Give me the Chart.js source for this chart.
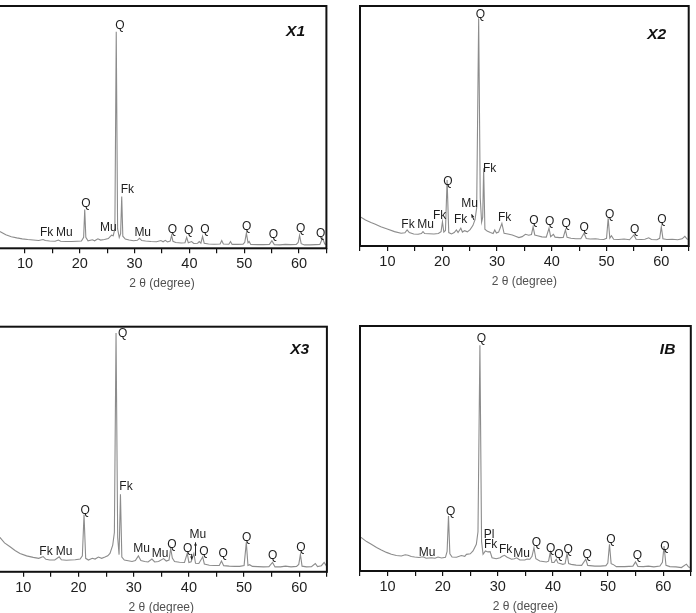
<!DOCTYPE html>
<html>
<head>
<meta charset="utf-8">
<script src="https://cdn.jsdelivr.net/npm/chart.js@4.4.1/dist/chart.umd.min.js"></script>
<style>
  body { margin: 0; background: #fff; }
  #page { position: relative; width: 696px; height: 613px; overflow: hidden; background: #fff; }
  canvas { position: absolute; }
</style>
</head>
<body>
<div id="page"></div>
<script>
// 2θ (degree) and relative intensity (% of frame height)

const x1Theta = [5.0, 5.5, 6.5, 7.5, 8.5, 9.5, 10.5, 11.5, 12.5, 13.3, 13.7, 14.5, 15.5, 16.1, 16.5, 17.5, 18.5, 19.5, 20.3, 20.7, 20.9, 21.1, 21.5, 22.3, 22.7, 23.3, 23.8, 24.5, 25.2, 25.8, 26.1, 26.4, 26.65, 26.9, 27.2, 27.45, 27.65, 27.85, 28.3, 29.0, 29.8, 30.5, 30.9, 31.3, 32.0, 33.0, 34.0, 34.8, 35.2, 35.6, 36.0, 36.5, 36.75, 37.0, 37.5, 38.5, 39.2, 39.5, 39.8, 40.4, 40.8, 41.5, 41.8, 42.1, 42.4, 42.7, 43.5, 44.5, 45.6, 45.9, 46.2, 47.2, 47.5, 47.8, 48.8, 49.8, 50.1, 50.4, 50.7, 50.9, 51.2, 52.5, 53.5, 54.6, 55.05, 55.5, 56.5, 57.5, 58.5, 59.5, 59.85, 60.1, 60.4, 61.0, 62.0, 63.0, 63.8, 64.3, 64.7, 65.0];
const x1Int = [7.5, 6.8, 5.6, 4.8, 4.3, 3.9, 3.6, 3.4, 3.2, 3.6, 3.2, 3.0, 2.9, 3.4, 2.9, 2.8, 2.8, 2.9, 3.0, 4.5, 16.0, 4.5, 3.1, 3.5, 3.1, 3.9, 3.4, 3.6, 4.0, 5.4, 5.2, 8.0, 89.4, 8.0, 4.5, 6.0, 21.4, 5.0, 3.8, 3.4, 3.1, 3.3, 4.1, 3.2, 3.0, 2.8, 2.7, 3.2, 2.7, 3.3, 2.6, 3.0, 5.3, 2.9, 2.4, 2.2, 2.3, 4.5, 2.3, 2.8, 2.0, 2.1, 2.8, 2.1, 4.9, 2.1, 1.8, 1.7, 1.8, 3.2, 1.8, 1.7, 2.8, 1.6, 1.6, 1.7, 2.5, 6.3, 2.3, 2.8, 1.6, 1.5, 1.5, 1.6, 3.1, 1.5, 1.4, 1.6, 1.5, 1.6, 2.4, 5.3, 1.9, 1.4, 1.4, 1.5, 1.6, 4.2, 1.8, 1.6];

const x2Theta = [5.0, 6.0, 7.0, 7.7, 8.8, 10.1, 11.3, 12.5, 13.2, 13.6, 14.0, 14.8, 15.6, 16.2, 16.5, 16.8, 17.6, 18.5, 19.3, 19.8, 20.05, 20.3, 20.6, 20.9, 21.2, 21.7, 22.2, 22.6, 22.9, 23.4, 23.7, 24.1, 24.6, 25.1, 25.6, 26.0, 26.3, 26.66, 26.95, 27.2, 27.4, 27.57, 27.8, 28.2, 28.8, 29.3, 29.6, 29.9, 30.3, 30.9, 31.3, 32.0, 32.8, 33.5, 34.0, 34.6, 35.2, 35.8, 36.3, 36.6, 36.9, 37.4, 38.2, 39.0, 39.5, 39.8, 40.3, 40.6, 41.4, 42.1, 42.5, 42.8, 43.5, 44.4, 45.3, 45.9, 46.3, 47.0, 48.0, 48.7, 49.5, 50.0, 50.3, 50.6, 50.9, 51.3, 52.2, 53.2, 54.2, 55.0, 55.4, 56.3, 57.0, 57.7, 58.2, 59.2, 59.7, 60.0, 60.3, 61.0, 62.0, 63.0, 63.8, 64.3, 64.7, 65.0];
const x2Int = [12.2, 10.8, 9.8, 9.2, 8.0, 7.0, 6.0, 5.3, 5.5, 6.7, 5.6, 5.0, 4.9, 5.2, 6.0, 5.2, 5.1, 5.0, 5.2, 6.0, 10.1, 5.8, 6.5, 27.5, 5.6, 5.0, 5.6, 6.7, 5.6, 7.4, 5.8, 6.4, 5.9, 6.8, 8.5, 11.0, 16.0, 94.9, 20.0, 10.0, 12.0, 32.4, 7.0, 6.2, 5.6, 5.2, 6.7, 5.4, 5.8, 9.4, 5.3, 5.0, 4.6, 4.0, 3.5, 3.9, 4.9, 4.5, 4.8, 8.0, 4.6, 4.3, 3.8, 3.7, 7.4, 3.9, 4.9, 3.7, 3.5, 3.6, 6.7, 3.6, 3.2, 3.0, 3.0, 5.3, 3.1, 2.9, 3.0, 2.8, 2.7, 3.2, 11.5, 3.3, 4.3, 2.8, 2.7, 2.9, 2.6, 4.6, 2.8, 2.7, 2.8, 3.4, 2.7, 2.6, 3.2, 8.0, 3.0, 2.7, 2.8, 2.6, 3.0, 4.0, 2.9, 2.8];

const x3Theta = [5.0, 5.8, 6.6, 7.6, 8.5, 9.4, 10.6, 11.8, 12.8, 13.6, 14.1, 14.8, 15.7, 16.5, 16.9, 17.8, 18.5, 19.4, 20.3, 20.7, 21.0, 21.3, 21.8, 22.5, 23.0, 23.6, 24.2, 24.8, 25.3, 25.7, 26.2, 26.5, 26.8, 27.1, 27.35, 27.6, 27.85, 28.3, 29.0, 29.7, 30.3, 30.85, 31.3, 32.0, 32.6, 33.3, 33.8, 34.5, 35.4, 35.9, 36.4, 36.7, 37.0, 37.4, 38.3, 39.2, 39.7, 40.0, 40.4, 40.9, 41.2, 41.8, 42.5, 42.8, 43.7, 44.6, 45.5, 45.9, 46.3, 47.3, 48.3, 49.2, 50.0, 50.4, 50.7, 51.0, 51.5, 52.5, 53.5, 54.5, 55.15, 55.6, 56.6, 57.5, 58.5, 59.5, 59.9, 60.2, 60.5, 61.3, 62.2, 62.9, 63.3, 64.0, 64.5, 65.0];
const x3Int = [16.5, 13.9, 11.8, 10.2, 8.7, 7.5, 6.5, 5.9, 5.5, 6.2, 5.1, 4.8, 4.8, 6.1, 4.9, 4.7, 4.8, 4.9, 5.2, 6.5, 23.4, 5.5, 4.8, 5.5, 5.2, 6.0, 5.5, 6.0, 6.5, 7.5, 10.9, 16.0, 97.4, 14.0, 7.0, 31.6, 6.0, 4.8, 4.5, 4.2, 4.6, 6.5, 4.6, 4.2, 4.0, 5.2, 4.0, 4.2, 5.4, 4.4, 4.8, 9.5, 5.6, 4.2, 3.9, 3.8, 7.5, 3.8, 4.1, 7.5, 3.5, 3.4, 6.1, 3.2, 2.7, 2.6, 2.6, 4.4, 2.5, 2.3, 2.2, 2.2, 2.6, 12.0, 2.6, 2.9, 2.2, 2.1, 2.0, 2.1, 3.8, 2.0, 2.0, 2.3, 2.0, 2.2, 3.0, 7.1, 2.3, 2.0, 2.1, 3.4, 2.1, 2.5, 3.8, 2.1];

const ibTheta = [5.0, 5.24, 6.2, 7.05, 8.0, 8.87, 9.8, 10.69, 11.6, 12.5, 13.2, 13.71, 14.3, 14.92, 15.7, 16.43, 17.0, 17.94, 18.6, 19.15, 19.8, 20.5, 20.8, 21.05, 21.3, 21.7, 22.5, 23.39, 24.0, 24.3, 25.0, 25.5, 26.1, 26.4, 26.75, 27.05, 27.32, 27.75, 28.2, 28.6, 28.95, 29.7, 30.4, 30.8, 31.2, 31.7, 32.5, 33.0, 33.4, 34.0, 34.9, 35.3, 35.8, 36.2, 36.55, 36.9, 37.6, 38.8, 39.2, 39.5, 39.8, 40.2, 40.6, 40.9, 41.8, 42.2, 42.55, 42.85, 43.3, 44.2, 45.2, 45.95, 46.3, 47.6, 48.6, 49.6, 49.95, 50.25, 50.55, 50.9, 51.5, 53.0, 54.5, 54.97, 55.4, 56.4, 57.3, 58.3, 59.4, 59.85, 60.15, 60.5, 61.2, 62.3, 63.3, 64.2, 64.6, 65.0];
const ibInt = [14.0, 13.6, 12.0, 10.9, 9.6, 8.6, 7.6, 6.8, 6.3, 6.1, 6.6, 6.4, 5.9, 5.7, 5.5, 5.8, 5.2, 5.4, 5.2, 5.7, 5.3, 5.6, 8.0, 22.4, 7.0, 5.7, 5.6, 6.3, 6.0, 6.8, 7.0, 8.2, 10.9, 16.0, 92.1, 12.0, 6.8, 8.2, 7.8, 7.9, 5.4, 5.0, 5.4, 6.0, 6.4, 5.6, 4.8, 5.0, 5.4, 4.5, 4.5, 4.9, 4.8, 6.0, 9.5, 5.0, 4.1, 3.7, 4.0, 7.5, 3.5, 3.5, 4.8, 3.3, 2.7, 3.0, 7.2, 3.0, 2.7, 2.4, 2.3, 4.8, 2.3, 2.0, 2.0, 2.2, 3.2, 10.9, 3.0, 2.7, 1.8, 1.8, 2.0, 3.7, 1.9, 1.8, 2.0, 1.7, 2.0, 3.5, 10.2, 2.3, 1.8, 1.7, 1.4, 2.8, 1.6, 1.4];

// phase labels: [text, 2θ, intensity] (centre of the text)
const x1Labels = [["Fk", 13.96, 6.3], ["Mu", 17.17, 6.3], ["Q", 21.13, 18.4], ["Mu", 25.2, 8.6], ["Q", 27.34, 91.8], ["Fk", 28.67, 24.0], ["Mu", 31.48, 6.5], ["Q", 36.88, 7.6], ["Q", 39.87, 7.3], ["Q", 42.85, 7.6], ["Q", 50.46, 9.0], ["Q", 55.31, 5.6], ["Q", 60.31, 7.9], ["Q", 63.96, 6.0]];
const x2Labels = [["Fk", 13.76, 8.8], ["Mu", 16.99, 8.8], ["Fk", 19.54, 12.5], ["Q", 21.06, 26.8], ["Fk", 23.37, 10.8], ["Mu", 25.0, 17.8], ["Q", 26.96, 96.3], ["Fk", 28.67, 32.4], ["Fk", 31.4, 12.0], ["Q", 36.75, 10.5], ["Q", 39.6, 10.1], ["Q", 42.65, 9.2], ["Q", 45.9, 7.6], ["Q", 50.57, 12.9], ["Q", 55.13, 7.0], ["Q", 60.1, 10.8]];
const x3Labels = [["Fk", 14.11, 8.2], ["Mu", 17.37, 8.2], ["Q", 21.23, 24.9], ["Q", 28.0, 97.0], ["Fk", 28.6, 34.7], ["Mu", 31.45, 9.5], ["Mu", 34.76, 7.5], ["Q", 36.94, 10.9], ["Q", 39.78, 9.5], ["Mu", 41.6, 15.0], ["Q", 42.73, 8.4], ["Q", 46.23, 7.5], ["Q", 50.47, 14.0], ["Q", 55.18, 6.4], ["Q", 60.31, 9.8]];
const ibLabels = [["Mu", 17.16, 7.5], ["Q", 21.45, 24.2], ["Q", 27.0, 95.0], ["Pl", 28.4, 15.0], ["Fk", 28.7, 10.9], ["Fk", 31.4, 8.6], ["Mu", 34.3, 7.1], ["Q", 37.0, 11.6], ["Q", 39.6, 9.3], ["Q", 41.1, 6.8], ["Q", 42.75, 8.8], ["Q", 46.2, 6.8], ["Q", 50.5, 12.7], ["Q", 55.3, 6.4], ["Q", 60.3, 9.9]];

// small arrows: [2θ from, int from, 2θ to, int to]
const x2Arrows = [[25.8, 10.8, 25.38, 13.2]];
const x3Arrows = [[40.5, 7.3, 40.5, 5.0], [41.2, 6.5, 41.2, 12.0]];

// sample names and their anchor (right end of text baseline)
const sampleNames = ["X1", "X2", "X3", "IB"];
const nameAnchors = [[61.1, 87.6], [60.9, 86.4], [61.8, 88.8], [62.2, 88.7]];

const xTicks = [10, 20, 30, 40, 50, 60];

// plot frames on the page: left, top, right, bottom
const frames = [
  { l: -2.4, t: 6, r: 326.4, b: 248.3 },
  { l: 360, t: 6, r: 688.7, b: 246 },
  { l: -4.3, t: 326.7, r: 326.9, b: 571.8 },
  { l: 360, t: 326, r: 690.8, b: 571 }
];

const series = [
  [x1Theta, x1Int, x1Labels, []],
  [x2Theta, x2Int, x2Labels, x2Arrows],
  [x3Theta, x3Int, x3Labels, x3Arrows],
  [ibTheta, ibInt, ibLabels, []]
];

const FONT = "'Liberation Sans', Arial, Helvetica, sans-serif";

const annotatePlugin = {
  id: "annotate",
  afterDatasetsDraw(chart, args, opts) {
    const ctx = chart.ctx;
    const xs = chart.scales.x, ys = chart.scales.y;
    const a = chart.chartArea;
    ctx.save();
    // phase labels
    ctx.fillStyle = "#1e1e1e";
    ctx.font = "12px " + FONT;
    ctx.textAlign = "center";
    ctx.textBaseline = "middle";
    opts.labels.forEach(l => {
      ctx.fillText(l[0], xs.getPixelForValue(l[1]), ys.getPixelForValue(l[2]));
    });
    // arrows
    ctx.strokeStyle = "#222";
    ctx.fillStyle = "#222";
    ctx.lineWidth = 1;
    opts.arrows.forEach(ar => {
      const x0 = xs.getPixelForValue(ar[0]), y0 = ys.getPixelForValue(ar[1]);
      const x1 = xs.getPixelForValue(ar[2]), y1 = ys.getPixelForValue(ar[3]);
      ctx.beginPath();
      ctx.moveTo(x0, y0);
      ctx.lineTo(x1, y1);
      ctx.stroke();
      const ang = Math.atan2(y1 - y0, x1 - x0);
      ctx.beginPath();
      ctx.moveTo(x1, y1);
      ctx.lineTo(x1 - 3.5 * Math.cos(ang - 0.45), y1 - 3.5 * Math.sin(ang - 0.45));
      ctx.lineTo(x1 - 3.5 * Math.cos(ang + 0.45), y1 - 3.5 * Math.sin(ang + 0.45));
      ctx.closePath();
      ctx.fill();
    });
    // sample name
    ctx.fillStyle = "#111";
    ctx.font = "italic bold 15.5px " + FONT;
    ctx.textAlign = "right";
    ctx.textBaseline = "alphabetic";
    ctx.fillText(opts.name, xs.getPixelForValue(opts.anchor[0]), ys.getPixelForValue(opts.anchor[1]));
    // frame
    ctx.strokeStyle = "#111";
    ctx.lineWidth = 2;
    ctx.strokeRect(a.left, a.top, a.right - a.left, a.bottom - a.top);
    ctx.restore();
  }
};

const page = document.getElementById("page");

frames.forEach((f, i) => {
  const cl = Math.floor(f.l) - 12;
  const ct = Math.floor(f.t) - 6;
  const w = Math.ceil(f.r) + 12 - cl;
  const h = Math.ceil(f.b) - ct + 60;
  const canvas = document.createElement("canvas");
  canvas.width = w;
  canvas.height = h;
  canvas.style.left = cl + "px";
  canvas.style.top = ct + "px";
  canvas.style.width = w + "px";
  canvas.style.height = h + "px";
  page.appendChild(canvas);

  const [theta, inten, labels, arrows] = series[i];
  const points = theta.map((t, k) => ({ x: t, y: inten[k] }));

  new Chart(canvas.getContext("2d"), {
    type: "line",
    data: {
      datasets: [{
        data: points,
        borderColor: "#8c8c8c",
        borderWidth: 1.1,
        pointRadius: 0,
        tension: 0,
        fill: false
      }]
    },
    options: {
      responsive: false,
      animation: false,
      devicePixelRatio: 1,
      layout: {
        padding: {
          left: f.l - cl,
          top: f.t - ct,
          right: w - (f.r - cl),
          bottom: h - (f.b - ct) - 60
        }
      },
      plugins: {
        legend: { display: false },
        tooltip: { enabled: false },
        annotate: { labels: labels, arrows: arrows, name: sampleNames[i], anchor: nameAnchors[i] }
      },
      scales: {
        x: {
          type: "linear",
          min: 5,
          max: 65,
          afterFit: s => { s.height = 60; },
          afterBuildTicks: s => {
            const t = [];
            for (let v = 5; v <= 65; v += 5) t.push({ value: v });
            s.ticks = t;
          },
          border: { display: false },
          grid: {
            drawOnChartArea: false,
            drawTicks: true,
            tickLength: 5,
            color: "#111",
            lineWidth: 1.2
          },
          ticks: {
            autoSkip: false,
            maxRotation: 0,
            padding: 2,
            color: "#1e1e1e",
            font: { family: FONT, size: 14.5 },
            callback: v => (xTicks.includes(v) ? String(v) : "")
          },
          title: {
            display: true,
            text: "2 \u03B8 (degree)",
            color: "#505050",
            font: { family: FONT, size: 12 },
            padding: { top: 0, bottom: 17 }
          }
        },
        y: {
          min: 0,
          max: 100,
          display: false
        }
      }
    },
    plugins: [annotatePlugin]
  });
});
</script>
</body>
</html>
